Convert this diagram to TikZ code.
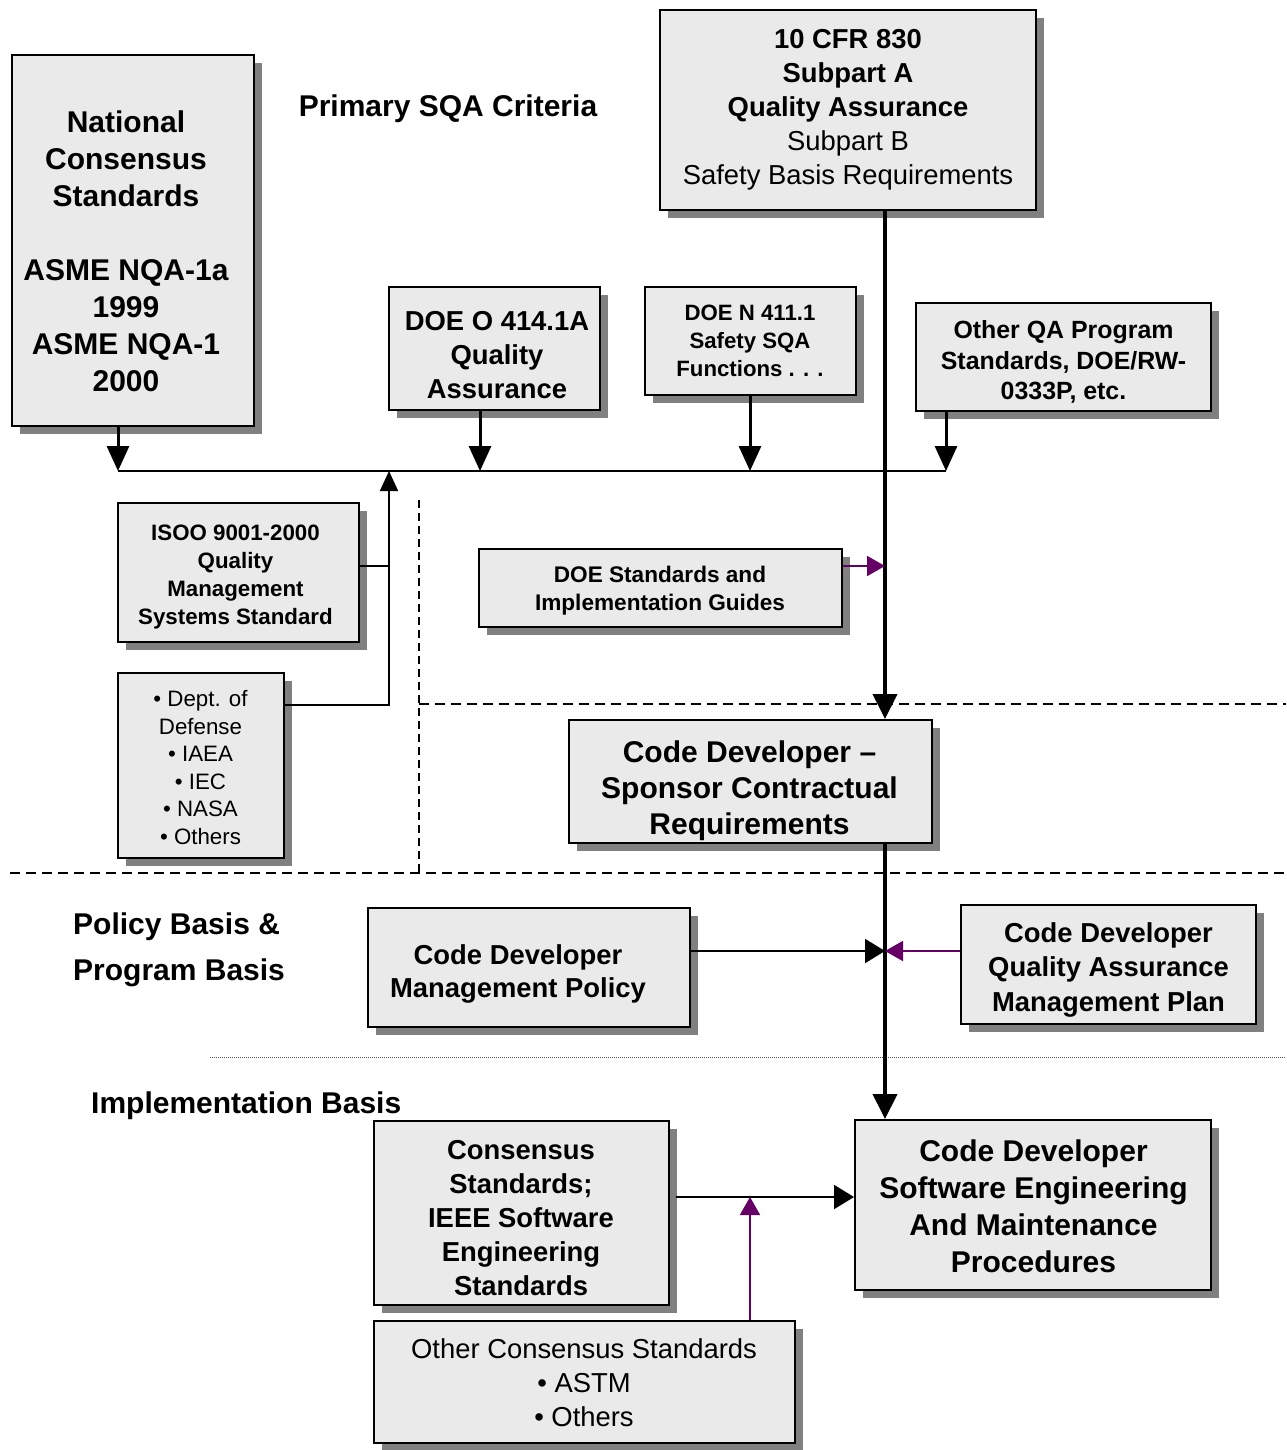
\documentclass[tikz,border=0pt]{standalone}
\usepackage{fontspec}
\setmainfont{Liberation Sans}
\usetikzlibrary{arrows.meta,shadows,calc}
\definecolor{boxfill}{RGB}{234,234,234}
\definecolor{shadowc}{RGB}{128,128,128}
\definecolor{purp}{RGB}{102,0,102}
\begin{document}
\begin{tikzpicture}[x=1pt,y=-1pt,
  box/.style={draw=black, line width=2pt, fill=boxfill, inner sep=0pt,
    drop shadow={shadow xshift=8pt, shadow yshift=-8pt, fill=shadowc, opacity=1}},
  txt/.style={align=center, inner sep=0pt},
  hdr/.style={inner sep=0pt, font=\fontsize{30}{37}\selectfont\bfseries},
  downarrow/.style={line width=3pt, -{Triangle[width=22pt,length=25pt]}},
  spinearrow/.style={line width=4pt, -{Triangle[width=24pt,length=25pt]}},
  thinline/.style={line width=1.8pt},
  blackarrow/.style={line width=2pt, -{Triangle[width=24pt,length=20pt]}},
  purparrow/.style={line width=1.8pt, draw=purp, -{Triangle[width=20pt,length=18pt]}},
  sepdash/.style={line width=2.5pt, dash pattern=on 10pt off 6pt},
  vdash/.style={line width=1.2pt, dash pattern=on 8pt off 5pt},
  sepdot/.style={line width=1pt, draw=black!70, dash pattern=on 1pt off 1pt}
]
\useasboundingbox (0,0) rectangle (1286,1450);

% ---- boxes ----
\node[box, minimum width=242pt, minimum height=371pt] (ncs) at (133,240.5) {};
\node[box, minimum width=376pt, minimum height=200pt] (cfr) at (848,110) {};
\node[box, minimum width=211pt, minimum height=123pt] (doeo) at (494.5,348.5) {};
\node[box, minimum width=211pt, minimum height=108pt] (doen) at (750.5,341) {};
\node[box, minimum width=295pt, minimum height=108pt] (otherqa) at (1063.5,357) {};
\node[box, minimum width=241pt, minimum height=139pt] (isoo) at (238.5,572.5) {};
\node[box, minimum width=166pt, minimum height=185pt] (dept) at (201,765.5) {};
\node[box, minimum width=363pt, minimum height=78pt] (doestd) at (660.5,588) {};
\node[box, minimum width=363pt, minimum height=123pt] (sponsor) at (750.5,781.5) {};
\node[box, minimum width=322pt, minimum height=119pt] (policy) at (529,967.5) {};
\node[box, minimum width=295pt, minimum height=119pt] (qaplan) at (1108.5,964.5) {};
\node[box, minimum width=295pt, minimum height=184pt] (consensus) at (521.5,1213) {};
\node[box, minimum width=356pt, minimum height=170pt] (se) at (1033,1205) {};
\node[box, minimum width=421pt, minimum height=122pt] (othercons) at (584.5,1382) {};

% ---- box texts ----
\node[txt, font=\fontsize{30}{37}\selectfont\bfseries] (ncs-t) at (126,251.5)
  {National\\Consensus\\Standards\\[37pt]ASME NQA-1a\\1999\\ASME NQA-1\\2000};
\node[txt, font=\fontsize{27.4}{34}\selectfont] (cfr-t) at (848,110)
  {\textbf{10 CFR 830}\\\textbf{Subpart A}\\\textbf{Quality Assurance}\\Subpart B\\Safety Basis Requirements};
\node[txt, font=\fontsize{27.4}{34}\selectfont\bfseries] (doeo-t) at (497,355)
  {DOE O 414.1A\\Quality\\Assurance};
\node[txt, font=\fontsize{22.2}{28}\selectfont\bfseries] (doen-t) at (750,341)
  {DOE N 411.1\\Safety SQA\\Functions . . .};
\node[txt, font=\fontsize{24.9}{30.5}\selectfont\bfseries] (otherqa-t) at (1063.5,362)
  {Other QA Program\\Standards, DOE/RW-\\0333P, etc.};
\node[txt, font=\fontsize{22.3}{28}\selectfont\bfseries] (isoo-t) at (235.5,577.5)
  {ISOO 9001-2000\\Quality\\Management\\Systems Standard};
\node[txt, font=\fontsize{22.3}{27.6}\selectfont] (dept-t) at (200.5,767.5)
  {• Dept. of\\Defense\\• IAEA\\• IEC\\• NASA\\• Others};
\node[txt, font=\fontsize{22.6}{28}\selectfont\bfseries] (doestd-t) at (660,591)
  {DOE Standards and\\Implementation Guides};
\node[txt, font=\fontsize{30}{36}\selectfont\bfseries] (sponsor-t) at (749.5,790.5)
  {Code Developer –\\Sponsor Contractual\\Requirements};
\node[txt, font=\fontsize{27.4}{33}\selectfont\bfseries] (policy-t) at (518,973.5)
  {Code Developer\\Management Policy};
\node[txt, font=\fontsize{27.4}{34.5}\selectfont\bfseries] (qaplan-t) at (1108.5,969.5)
  {Code Developer\\Quality Assurance\\Management Plan};
\node[txt, font=\fontsize{27.4}{34}\selectfont\bfseries] (consensus-t) at (521,1218)
  {Consensus\\Standards;\\IEEE Software\\Engineering\\Standards};
\node[txt, font=\fontsize{30}{37}\selectfont\bfseries] (se-t) at (1033.5,1206.5)
  {Code Developer\\Software Engineering\\And Maintenance\\Procedures};
\node[txt, font=\fontsize{27.4}{34}\selectfont] (othercons-t) at (584,1383)
  {Other Consensus Standards\\• ASTM\\• Others};

% ---- headings ----
\node[hdr] (title) at (448,109) {Primary SQA Criteria};
\node[hdr, anchor=west] (policylbl1) at (73,927) {Policy Basis \&};
\node[hdr, anchor=west] (policylbl2) at (73,973) {Program Basis};
\node[hdr, anchor=west] (impllbl) at (91,1106) {Implementation Basis};

% ---- separators ----
\draw[vdash] (419,500) -- (419,873);
\draw[sepdash] (419,704) -- (1286,704);
\draw[sepdash] (10,873) -- (1286,873);
\draw[sepdot] (210,1057) -- (1286,1057);

% ---- coordinates ----
\coordinate (spine) at (885,0);
\coordinate (b0) at (118,471);
\coordinate (b1) at (389,471);
\coordinate (b2) at (480,471);
\coordinate (b3) at (750,471);
\coordinate (b4) at (946,471);
\coordinate (j1) at (389,566);
\coordinate (j2) at (389,705);
\coordinate (p1) at (885,566);
\coordinate (m1) at (885,951);
\coordinate (c1) at (750,1197);

% ---- connectors ----
\draw[line width=2pt] (b0) -- (b4);
\draw[downarrow] (ncs.south -| b0) -- (b0);
\draw[downarrow] (doeo.south -| b2) -- (b2);
\draw[downarrow] (doen.south -| b3) -- (b3);
\draw[downarrow] (otherqa.south -| b4) -- (b4);
\draw[thinline] (isoo.east |- j1) -- (j1);
\draw[thinline, -{Triangle[width=18pt,length=20pt]}] (dept.east |- j2) -- (j2) -- (b1);
\draw[spinearrow] (cfr.south -| spine) -- (sponsor.north -| spine);
\draw[spinearrow] (sponsor.south -| spine) -- (se.north -| spine);
\draw[purparrow] (doestd.east |- p1) -- (p1);
\draw[blackarrow] (policy.east |- m1) -- (m1);
\draw[purparrow] (qaplan.west |- m1) -- (m1);
\draw[blackarrow] ($(consensus.east |- c1)+(6,0)$) -- (se.west |- c1);
\draw[purparrow] (othercons.north -| c1) -- (c1);
\end{tikzpicture}
\end{document}
